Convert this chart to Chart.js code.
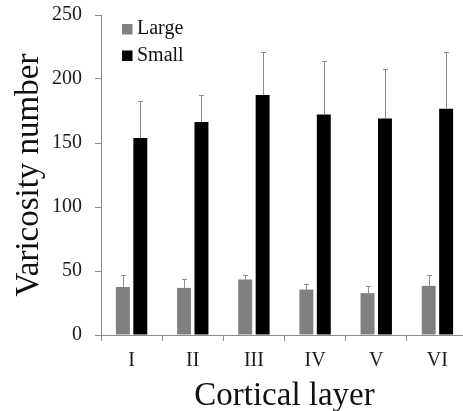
<!DOCTYPE html>
<html>
<head>
<meta charset="utf-8">
<script src="https://cdn.jsdelivr.net/npm/chart.js@4.4.1/dist/chart.umd.min.js"></script>
<style>
  html, body { margin: 0; padding: 0; background: #fff; overflow: hidden; }
  #wrap { width: 475px; height: 411px; position: relative; }
</style>
</head>
<body>
<div id="wrap"><canvas id="chartVaricosity"></canvas></div>
<script>
// data
const layers = ['I', 'II', 'III', 'IV', 'V', 'VI'];
const largeMeans = [37.5, 36.8, 43.4, 35.5, 32.7, 38.4];
const largeErr = [9.3, 6.8, 3.4, 4.5, 5.4, 8.1];
const smallMeans = [153.9, 166.4, 187.5, 172.3, 169.2, 176.7];
const smallErr = [28.6, 21.1, 33.6, 41.7, 38.6, 44.4];
const yTicks = [0, 50, 100, 150, 200, 250];

const SERIF = '"Liberation Serif", "Times New Roman", serif';
const AXIS_GRAY = '#8c8c8c';

// upward-only error bars with a small cap
const errorBars = {
    id: 'errorBars',
    afterDatasetsDraw(chart) {
        const { ctx } = chart;
        const y = chart.scales.y;
        ctx.save();
        ctx.strokeStyle = '#8c8c8c';
        ctx.lineWidth = 1;
        chart.data.datasets.forEach((ds, i) => {
            const meta = chart.getDatasetMeta(i);
            meta.data.forEach((bar, j) => {
                const top = y.getPixelForValue(ds.data[j] + ds.errors[j]);
                const x = Math.round(bar.x) + 0.5;
                ctx.beginPath();
                ctx.moveTo(x, bar.y);
                ctx.lineTo(x, top);
                ctx.moveTo(x - 2.5, Math.round(top) + 0.5);
                ctx.lineTo(x + 2.5, Math.round(top) + 0.5);
                ctx.stroke();
            });
        });
        ctx.restore();
    }
};

// legend sitting inside the plot, top-left
const insideLegend = {
    id: 'insideLegend',
    afterDraw(chart) {
        const { ctx, chartArea } = chart;
        ctx.save();
        ctx.font = '20px ' + SERIF;
        ctx.textBaseline = 'middle';
        ctx.textAlign = 'left';
        chart.data.datasets.forEach((ds, i) => {
            const cy = chartArea.top + 14 + i * 26.5;
            const sx = chartArea.left + 21;
            ctx.fillStyle = ds.backgroundColor;
            ctx.fillRect(sx, cy - 5, 10.5, 10.5);
            ctx.fillStyle = '#111';
            ctx.fillText(ds.label, sx + 15, cy);
        });
        ctx.restore();
    }
};

new Chart(document.getElementById('chartVaricosity').getContext('2d'), {
    type: 'bar',
    data: {
        labels: layers,
        datasets: [
            { label: 'Large', data: largeMeans, errors: largeErr, backgroundColor: '#808080',
              categoryPercentage: 0.57, barPercentage: 0.8 },
            { label: 'Small', data: smallMeans, errors: smallErr, backgroundColor: '#000000',
              categoryPercentage: 0.57, barPercentage: 0.8 }
        ]
    },
    options: {
        responsive: true,
        maintainAspectRatio: false,
        animation: false,
        layout: { padding: { top: 15, right: 7, bottom: 0, left: 0 } },
        plugins: {
            legend: { display: false },
            tooltip: { enabled: false }
        },
        scales: {
            x: {
                afterFit: s => { s.height = 76; s.paddingLeft = 0; s.paddingRight = 0; },
                grid: { offset: true, drawOnChartArea: false, tickLength: 6, color: AXIS_GRAY },
                border: { color: AXIS_GRAY, width: 1 },
                ticks: { color: '#1a1a1a', padding: 8, font: { family: SERIF, size: 20 } },
                title: {
                    display: true, text: 'Cortical layer', color: '#111',
                    font: { family: SERIF, size: 33, lineHeight: 0.9 },
                    padding: { top: 0, bottom: 0 }
                }
            },
            y: {
                min: 0,
                max: 250,
                afterFit: s => { s.width = 101; s.paddingTop = 0; s.paddingBottom = 0; },
                afterBuildTicks: s => { s.ticks = yTicks.map(v => ({ value: v })); },
                grid: { drawOnChartArea: false, tickLength: 6, color: AXIS_GRAY },
                border: { color: AXIS_GRAY, width: 1 },
                ticks: { color: '#1a1a1a', padding: 13, font: { family: SERIF, size: 20 } },
                title: {
                    display: true, text: 'Varicosity number', color: '#111',
                    font: { family: SERIF, size: 33, lineHeight: 1 },
                    padding: { top: 12.5, bottom: 0 }
                }
            }
        }
    },
    plugins: [errorBars, insideLegend]
});
</script>
</body>
</html>
